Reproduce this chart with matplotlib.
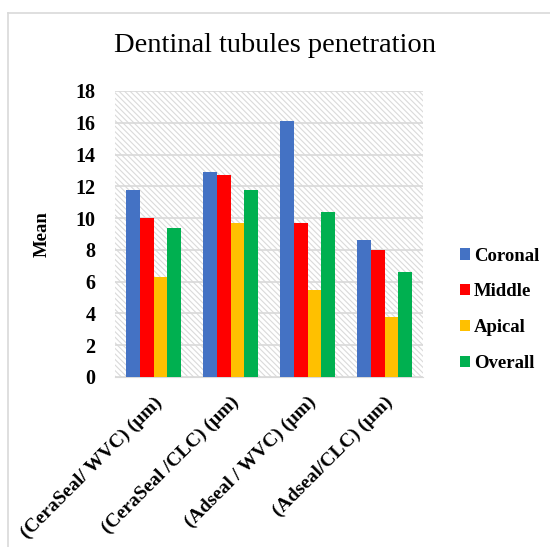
import numpy as np
import matplotlib.pyplot as plt
from matplotlib.lines import Line2D

# data
groups = ['(CeraSeal/ WVC) (µm)', '(CeraSeal /CLC) (µm)',
          '(Adseal / WVC) (µm)', '(Adseal/CLC) (µm)']
series = ['Coronal', 'Middle', 'Apical', 'Overall']
coronal = [11.8, 12.9, 16.1, 8.6]
middle  = [10.0, 12.7, 9.7, 8.0]
apical  = [6.3, 9.7, 5.5, 3.8]
overall = [9.4, 11.8, 10.4, 6.6]
values = [coronal, middle, apical, overall]
colors = ['#4472C4', '#FF0000', '#FFC000', '#00B050']

plt.rcParams['font.family'] = ['Liberation Serif', 'DejaVu Serif']
plt.rcParams['hatch.color'] = '#dadada'
plt.rcParams['hatch.linewidth'] = 0.8

W, H = 550, 547
fig = plt.figure(figsize=[W/100, H/100], dpi=100)
ax = fig.add_axes([115/W, 1-377/H, (423-115)/W, (377-91)/H])

# hatched background
ax.add_patch(plt.Rectangle((0, 0), 1, 1, transform=ax.transAxes,
                           facecolor='white', edgecolor='#dadada',
                           hatch='\\' * 6, linewidth=0, zorder=0))

x = np.arange(len(groups))
bw = 0.18
for i, (name, vals) in enumerate(zip(series, values)):
    ax.bar(x + (i - 1.5)*bw, vals, bw, color=colors[i], label=name, zorder=3)

ax.set_xlim(-0.5, 3.5)
ax.set_ylim(0, 18)
ax.set_yticks(range(0, 19, 2))
ax.yaxis.grid(True, color='#d9d9d9', linewidth=1.2, zorder=1)
ax.set_axisbelow(True)
for s in ['top', 'right', 'left']:
    ax.spines[s].set_visible(False)
ax.spines['bottom'].set_color('#d9d9d9')
ax.tick_params(length=0)
ax.tick_params(axis='y', labelsize=14.5, pad=14)
for t in ax.get_yticklabels():
    t.set_fontweight('bold')

ax.set_xticks(x)
ax.set_xticklabels(groups, rotation=45, ha='right', rotation_mode='anchor',
                   fontsize=14, fontweight='bold')
ax.tick_params(axis='x', pad=12)
ax.set_ylabel('Mean', fontsize=13.5, fontweight='bold', labelpad=18)

fig.text(0.5, 1-46/H, 'Dentinal tubules penetration', ha='center',
         va='center', fontsize=20.5)

ax.legend(loc='center left', bbox_to_anchor=(1.065, 0.235), frameon=False,
          prop={'weight': 'bold', 'size': 13.5}, handlelength=0.55,
          handleheight=0.55, handletextpad=0.2, labelspacing=1.0)

# chart border
fig.add_artist(Line2D([8/W, 1], [1-13/H, 1-13/H], color='#d9d9d9', lw=1.2))
fig.add_artist(Line2D([8/W, 8/W], [0, 1-13/H], color='#d9d9d9', lw=1.2))

fig.savefig('out.png', dpi=100)
